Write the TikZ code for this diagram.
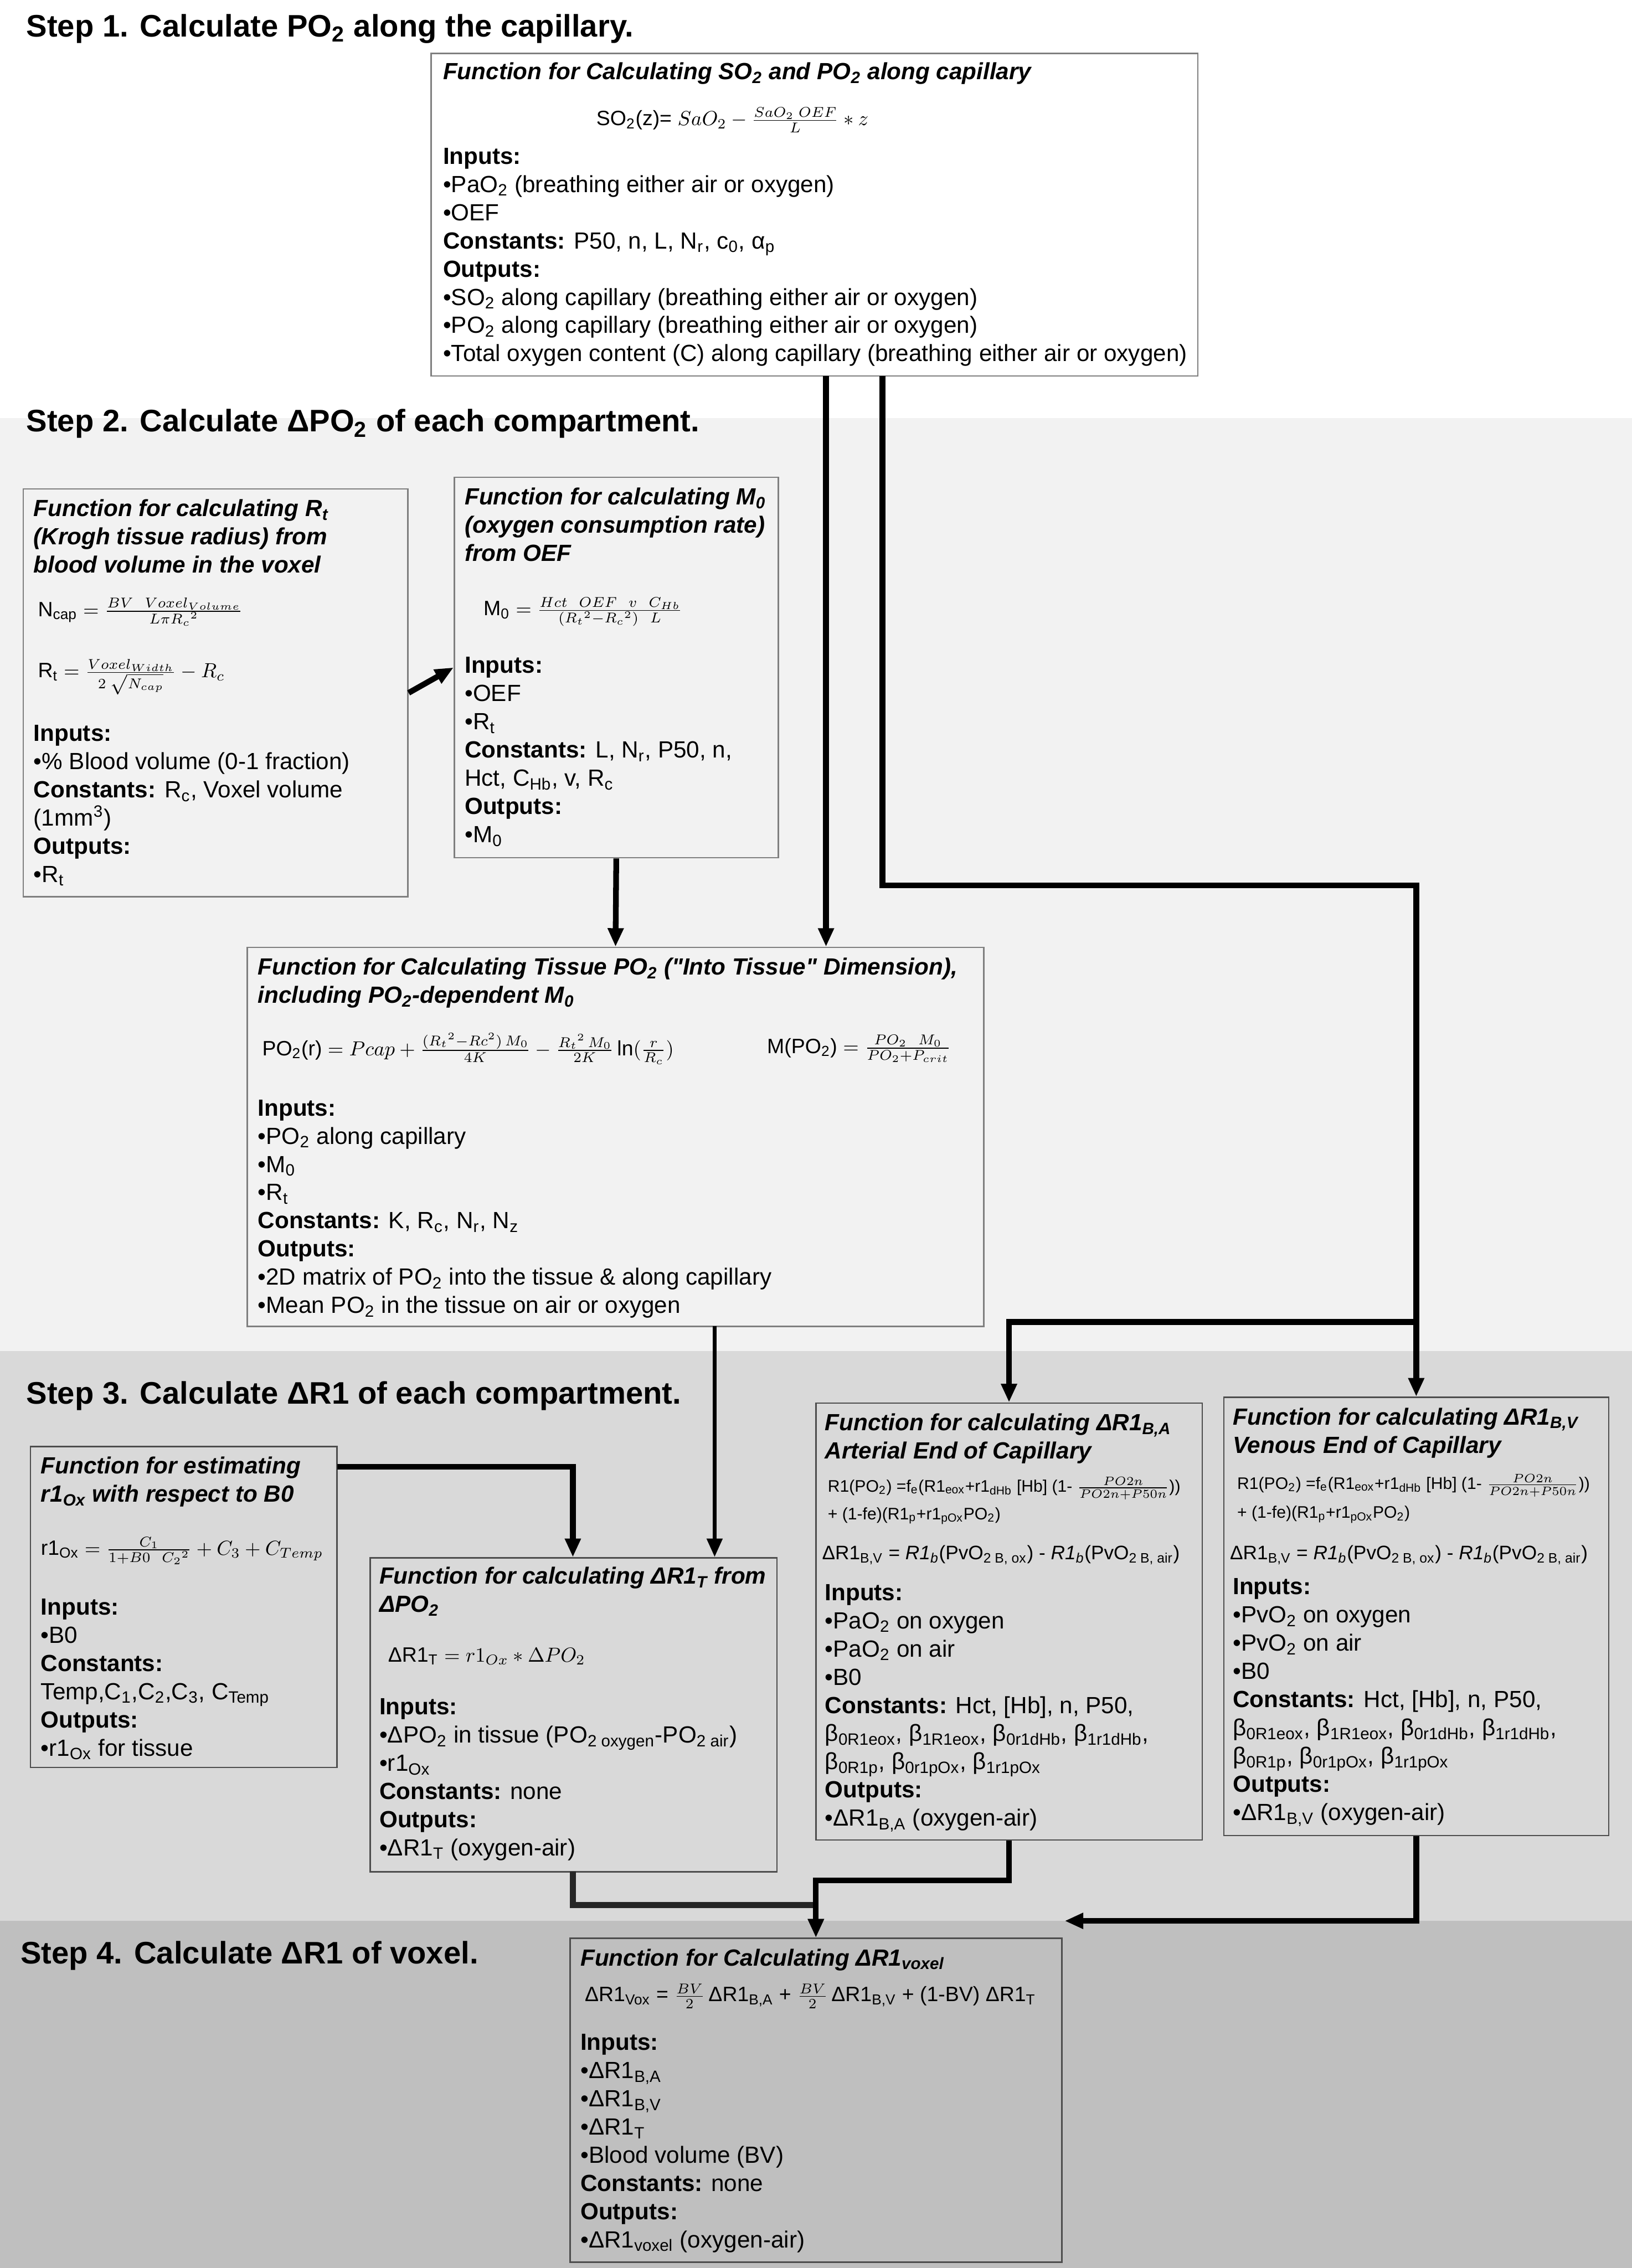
\documentclass[tikz,border=0pt]{standalone}
\usepackage{fontspec}
\setmainfont{Liberation Sans}
\usepackage{amsmath}
\usetikzlibrary{arrows.meta,fit}
\definecolor{bandtwo}{HTML}{F2F2F2}
\definecolor{bandthree}{HTML}{D9D9D9}
\definecolor{bandfour}{HTML}{BFBFBF}
\definecolor{frame}{HTML}{7F7F7F}
\definecolor{darkframe}{HTML}{4D4D4D}
\definecolor{darkline}{HTML}{262626}
\newcommand{\subt}[1]{\ensuremath{_{\text{#1}}}}
\newcommand{\dquote}{\XeTeXglyph\XeTeXcharglyph"22\relax}
\tikzstyle{fbox}=[draw=frame, line width=0.7pt, inner sep=0pt]
\tikzstyle{dbox}=[fbox, draw=darkframe]
\tikzstyle{txt}=[anchor=north west, align=left, inner sep=0pt, font=\fontsize{11.5}{13.87}\selectfont]
\tikzstyle{ttl}=[txt, font=\fontsize{11.5}{13.87}\selectfont\bfseries\itshape]
\tikzstyle{eq}=[anchor=west, inner sep=0pt, font=\fontsize{10.2}{12}\selectfont]
\tikzstyle{smalleq}=[anchor=west, inner sep=0pt, font=\fontsize{8.2}{10}\selectfont]
\tikzstyle{midleq}=[anchor=west, inner sep=0pt, font=\fontsize{9.6}{11}\selectfont]
\tikzstyle{steplabel}=[anchor=west, inner sep=0pt, font=\fontsize{15.3}{17}\selectfont\bfseries]
\tikzstyle{link}=[line width=2.8pt]
\tikzstyle{flow}=[link, -{Triangle[length=0.32cm, width=0.26cm]}]

\begin{document}
\begin{tikzpicture}[x=0.025cm, y=-0.025cm]
\useasboundingbox (0,0) rectangle (1128,1568);
% step bands
\fill[white] (0,0) rectangle (1128,289);
\fill[bandtwo] (0,289) rectangle (1128,934);
\fill[bandthree] (0,934) rectangle (1128,1328);
\fill[bandfour] (0,1328) rectangle (1128,1568);

\node[steplabel] (s1) at (18,20) {Step 1. Calculate PO\subt{2} along the capillary.};
\node[steplabel] (s2) at (18,293) {Step 2. Calculate ΔPO\subt{2} of each compartment.};
\node[steplabel] (s3) at (18,965) {Step 3. Calculate ΔR1 of each compartment.};
\node[steplabel] (s4) at (14,1352) {Step 4. Calculate ΔR1 of voxel.};

% step 1
\node[fbox, fill=white, fit={(298,37) (828,260)}] (so2) {};
\node[ttl] (so2-t) at (306,43) {Function for Calculating SO\subt{2} and PO\subt{2} along capillary};
\node[eq] (so2-e) at (412,83) {SO\subt{2}(z)= $SaO_2-\frac{SaO_2\;OEF}{L}*z$};
\node[txt] (so2-l) at (306,102) {\textbf{Inputs:}\\•PaO\subt{2} (breathing either air or oxygen)\\•OEF\\\textbf{Constants:} P50, n, L, N\subt{r}, c\subt{0}, α\subt{p}\\\textbf{Outputs:}\\•SO\subt{2} along capillary (breathing either air or oxygen)\\•PO\subt{2} along capillary (breathing either air or oxygen)\\•Total oxygen content (C) along capillary (breathing either air or oxygen)};

% step 2
\node[fbox, fill=bandtwo, fit={(16,338) (282,620)}] (rt) {};
\node[ttl] (rt-t) at (23,345) {Function for calculating R\subt{t}\\(Krogh tissue radius) from\\blood volume in the voxel};
\node[eq] (rt-e1) at (26,423) {N\subt{cap} $=\frac{BV\ \ Voxel_{Volume}}{L\pi {R_c}^2}$};
\node[eq] (rt-e2) at (26,468) {R\subt{t} $=\frac{Voxel_{Width}}{2\;\sqrt{N_{cap}}}-R_c$};
\node[txt] (rt-l) at (23,501) {\textbf{Inputs:}\\•\% Blood volume (0-1 fraction)\\\textbf{Constants:} R\subt{c}, Voxel volume\\(1mm$^{\text{3}}$)\\\textbf{Outputs:}\\•R\subt{t}};

\node[fbox, fill=bandtwo, fit={(314,330) (538,593)}] (m0) {};
\node[ttl] (m0-t) at (321,337) {Function for calculating M\subt{0}\\(oxygen consumption rate)\\from OEF};
\node[eq] (m0-e) at (334,423) {M\subt{0} $=\frac{Hct\ \ OEF\ \ v\ \ C_{Hb}}{({R_t}^2-{R_c}^2)\ \ L}$};
\node[txt] (m0-l) at (321,454) {\textbf{Inputs:}\\•OEF\\•R\subt{t}\\\textbf{Constants:} L, N\subt{r}, P50, n,\\Hct, C\subt{Hb}, v, R\subt{c}\\\textbf{Outputs:}\\•M\subt{0}};

\node[fbox, fill=bandtwo, fit={(171,655) (680,917)}] (tis) {};
\node[ttl] (tis-t) at (178,662) {Function for Calculating Tissue PO\subt{2} (\dquote Into Tissue\dquote\ Dimension),\\including PO\subt{2}-dependent M\subt{0}};
\node[eq] (tis-e1) at (181,725) {PO\subt{2}(r) $= Pcap+\frac{({R_t}^2-Rc^2)\,M_0}{4K}-\frac{{R_t}^2\,M_0}{2K}\,\mathrm{ln}(\frac{r}{R_c})$};
\node[eq] (tis-e2) at (530,725) {M(PO\subt{2}) $=\frac{PO_2\ \ M_0}{PO_2+P_{crit}}$};
\node[txt] (tis-l) at (178,760) {\textbf{Inputs:}\\•PO\subt{2} along capillary\\•M\subt{0}\\•R\subt{t}\\\textbf{Constants:} K, R\subt{c}, N\subt{r}, N\subt{z}\\\textbf{Outputs:}\\•2D matrix of PO\subt{2} into the tissue \& along capillary\\•Mean PO\subt{2} in the tissue on air or oxygen};

% step 3
\node[dbox, fill=bandthree, fit={(21,1000) (233,1222)}] (r1) {};
\node[ttl] (r1-t) at (28,1007) {Function for estimating\\r1\subt{Ox} with respect to B0};
\node[eq] (r1-e) at (28,1072) {r1\subt{Ox} $=\frac{C_1}{1+B0\ \ {C_2}^2}+C_3+C_{Temp}$};
\node[txt] (r1-l) at (28,1105) {\textbf{Inputs:}\\•B0\\\textbf{Constants:}\\Temp,C\subt{1},C\subt{2},C\subt{3}, C\subt{Temp}\\\textbf{Outputs:}\\•r1\subt{Ox} for tissue};

\node[dbox, fill=bandthree, fit={(256,1077) (537,1294)}] (dt) {};
\node[ttl] (dt-t) at (262,1083) {Function for calculating ΔR1\subt{T} from\\ΔPO\subt{2}};
\node[eq] (dt-e) at (268,1145) {ΔR1\subt{T} $= r1_{Ox}*\Delta PO_2$};
\node[txt] (dt-l) at (262,1174) {\textbf{Inputs:}\\•ΔPO\subt{2} in tissue (PO\subt{2 oxygen}-PO\subt{2 air})\\•r1\subt{Ox}\\\textbf{Constants:} none\\\textbf{Outputs:}\\•ΔR1\subt{T}  (oxygen-air)};

\node[dbox, fill=bandthree, fit={(564,970) (831,1272)}] (ba) {};
\node[ttl] (ba-t) at (570,977) {Function for calculating ΔR1\subt{B,A}\\Arterial End of Capillary};
\node[smalleq] (ba-e1) at (572,1029) {R1(PO\subt{2}) =f\subt{e}(R1\subt{eox}+r1\subt{dHb} [Hb] (1- $\frac{PO2n}{PO2n+P50n}$))};
\node[smalleq] (ba-e2) at (572,1048) {+ (1-fe)(R1\subt{p}+r1\subt{pOx}PO\subt{2})};
\node[midleq] (ba-e3) at (568,1075) {ΔR1\subt{B,V} = \textit{R1\subt{b}}(PvO\subt{2 B, ox}) - \textit{R1\subt{b}}(PvO\subt{2 B, air})};
\node[txt] (ba-l) at (570,1095) {\textbf{Inputs:}\\•PaO\subt{2} on oxygen\\•PaO\subt{2} on air\\•B0\\\textbf{Constants:} Hct, [Hb], n, P50,\\β\subt{0R1eox}, β\subt{1R1eox}, β\subt{0r1dHb}, β\subt{1r1dHb},\\β\subt{0R1p}, β\subt{0r1pOx}, β\subt{1r1pOx}\\\textbf{Outputs:}\\•ΔR1\subt{B,A} (oxygen-air)};

\node[dbox, fill=bandthree, fit={(846,966) (1112,1269)}] (bv) {};
\node[ttl] (bv-t) at (852,973) {Function for calculating ΔR1\subt{B,V}\\Venous End of Capillary};
\node[smalleq] (bv-e1) at (855,1027) {R1(PO\subt{2}) =f\subt{e}(R1\subt{eox}+r1\subt{dHb} [Hb] (1- $\frac{PO2n}{PO2n+P50n}$))};
\node[smalleq] (bv-e2) at (855,1047) {+ (1-fe)(R1\subt{p}+r1\subt{pOx}PO\subt{2})};
\node[midleq] (bv-e3) at (850,1075) {ΔR1\subt{B,V} = \textit{R1\subt{b}}(PvO\subt{2 B, ox}) - \textit{R1\subt{b}}(PvO\subt{2 B, air})};
\node[txt] (bv-l) at (852,1091) {\textbf{Inputs:}\\•PvO\subt{2} on oxygen\\•PvO\subt{2} on air\\•B0\\\textbf{Constants:} Hct, [Hb], n, P50,\\β\subt{0R1eox}, β\subt{1R1eox}, β\subt{0r1dHb}, β\subt{1r1dHb},\\β\subt{0R1p}, β\subt{0r1pOx}, β\subt{1r1pOx}\\\textbf{Outputs:}\\•ΔR1\subt{B,V} (oxygen-air)};

% step 4
\node[dbox, fill=bandfour, fit={(394,1340) (734,1564)}] (vox) {};
\node[ttl] (vox-t) at (401,1347) {Function for Calculating ΔR1\subt{voxel}};
\node[eq] (vox-e) at (404,1380) {ΔR1\subt{Vox} = $\frac{BV}{2}$\,ΔR1\subt{B,A} + $\frac{BV}{2}$\,ΔR1\subt{B,V} + (1-BV) ΔR1\subt{T}};
\node[txt] (vox-l) at (401,1406) {\textbf{Inputs:}\\•ΔR1\subt{B,A}\\•ΔR1\subt{B,V}\\•ΔR1\subt{T}\\•Blood volume (BV)\\\textbf{Constants:} none\\\textbf{Outputs:}\\•ΔR1\subt{voxel} (oxygen-air)};

% connectors
\coordinate (capA) at (571,260);
\coordinate (capB) at (610,260);
\coordinate (bendB) at (610,612);
\coordinate (bendC) at (979,612);
\coordinate (split) at (979,914);
\coordinate (splitA) at (697.5,914);
\coordinate (tisout) at (494,917);
\coordinate (r1out) at (233,1014);
\coordinate (r1bend) at (396,1014);
\coordinate (dtout) at (396,1294);
\coordinate (dtbend) at (396,1317);
\coordinate (babend) at (697.5,1300);
\coordinate (bvbend) at (979,1328);
\coordinate (voxin) at (736,1328);

\draw[flow] (rt.east) -- (m0.west);
\draw[flow] (m0.south) -- (tis.north);
\draw[flow] (capA) -- (capA |- tis.north);
\draw[link] (capB) -- (bendB) -- (bendC) -- (split);
\draw[flow] (split) -- (bv.north);
\draw[flow] (split) -- (splitA) -- (ba.north);
\draw[flow, line width=2pt] (tisout) -- (tisout |- dt.north);
\draw[flow] (r1out) -- (r1bend) -- (r1bend |- dt.north);
\draw[flow, darkline] (dtout) -- (dtbend) -- (dtbend -| vox.north) -- (vox.north);
\draw[flow] (ba.south) -- (babend) -- (babend -| vox.north) -- (vox.north);
\draw[flow] (bv.south) -- (bvbend) -- (voxin);
\end{tikzpicture}
\end{document}
